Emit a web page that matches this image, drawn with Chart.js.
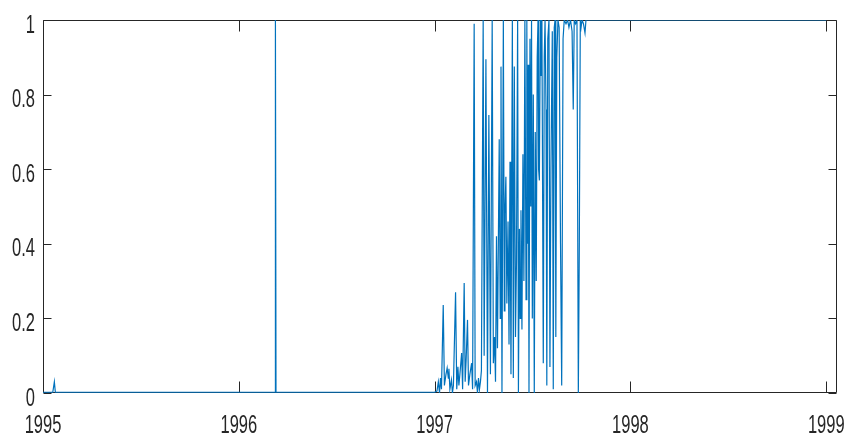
<!DOCTYPE html>
<html>
<head>
<meta charset="utf-8">
<script src="https://cdn.jsdelivr.net/npm/chart.js@4"></script>
<style>
html,body{margin:0;padding:0;background:#fff;}
#wrap{position:relative;width:847px;height:434px;}
</style>
</head>
<body>
<div id="wrap"><canvas id="c" width="847" height="434"></canvas></div>
<script>
// ---- data ----
const xTicks = [1995, 1996, 1997, 1998, 1999];
const xTickLabels = ['1995', '1996', '1997', '1998', '1999'];
const yTicks = [0, 0.2, 0.4, 0.6, 0.8, 1];
const yTickLabels = ['0', '0.2', '0.4', '0.6', '0.8', '1'];
const xMin = 1995, xMax = 1999.055;

const years = [
  1995.000, 1995.050, 1995.058, 1995.063, 1996.185, 1996.187, 1996.190,
  1997.000, 1997.012, 1997.019, 1997.025, 1997.030, 1997.035, 1997.044, 1997.050,
  1997.058, 1997.064, 1997.070, 1997.073, 1997.078, 1997.086, 1997.091, 1997.096,
  1997.107, 1997.113, 1997.119, 1997.124, 1997.129, 1997.138, 1997.143, 1997.151,
  1997.156, 1997.161, 1997.168, 1997.173, 1997.180, 1997.189, 1997.194, 1997.202,
  1997.207, 1997.214, 1997.219, 1997.224, 1997.229, 1997.234, 1997.239, 1997.248,
  1997.253, 1997.262, 1997.270, 1997.277, 1997.285, 1997.294, 1997.300, 1997.306,
  1997.311, 1997.316, 1997.321, 1997.330, 1997.335, 1997.339, 1997.344, 1997.351,
  1997.356, 1997.359, 1997.364, 1997.369, 1997.375, 1997.380, 1997.385, 1997.390,
  1997.397, 1997.402, 1997.407, 1997.413, 1997.418, 1997.424, 1997.428, 1997.433,
  1997.437, 1997.441, 1997.446, 1997.451, 1997.456, 1997.461, 1997.467, 1997.471,
  1997.474, 1997.478, 1997.482, 1997.487, 1997.491, 1997.495, 1997.499, 1997.504,
  1997.509, 1997.514, 1997.519, 1997.524, 1997.528, 1997.531, 1997.535, 1997.540,
  1997.543, 1997.548, 1997.555, 1997.560, 1997.564, 1997.569, 1997.573, 1997.578,
  1997.584, 1997.589, 1997.594, 1997.601, 1997.606, 1997.611, 1997.615, 1997.619,
  1997.624, 1997.630, 1997.636, 1997.643, 1997.649, 1997.656, 1997.662, 1997.671,
  1997.679, 1997.686, 1997.694, 1997.702, 1997.708, 1997.713, 1997.720, 1997.727,
  1997.734, 1997.739, 1997.744, 1997.748, 1997.753, 1997.760, 1997.768, 1997.773,
  1999.000
];
const values = [
  0.002, 0.002, 0.030, 0.002, 0.002, 1.000, 0.002,
  0.002, 0.005, 0.030, 0.000, 0.040, 0.010, 0.236, 0.020,
  0.050, 0.067, 0.040, 0.065, 0.010, 0.035, 0.000, 0.020,
  0.270, 0.010, 0.070, 0.020, 0.050, 0.107, 0.010, 0.295,
  0.030, 0.090, 0.196, 0.020, 0.050, 0.080, 0.010, 0.990,
  0.020, 0.030, 0.000, 0.040, 0.010, 0.030, 0.060, 1.000,
  0.100, 0.895, 0.000, 0.745, 0.050, 1.000, 0.080, 0.150,
  0.030, 0.420, 0.120, 0.680, 0.200, 0.875, 0.000, 1.000,
  0.220, 0.480, 0.580, 0.240, 0.460, 0.130, 0.620, 0.050,
  1.000, 0.040, 0.875, 0.150, 0.350, 1.000, 0.000, 0.440,
  0.200, 0.490, 0.170, 0.640, 0.300, 1.000, 0.250, 1.000,
  0.400, 0.880, 0.000, 0.950, 0.500, 1.000, 0.200, 0.800,
  0.000, 0.700, 0.300, 0.900, 1.000, 0.600, 0.570, 1.000,
  0.850, 1.000, 0.080, 0.900, 1.000, 0.760, 0.020, 0.950,
  1.000, 0.070, 0.600, 0.970, 0.010, 0.980, 1.000, 0.150,
  0.900, 1.000, 0.980, 0.400, 0.020, 0.950, 1.000, 0.990,
  1.000, 0.980, 1.000, 0.970, 0.760, 1.000, 0.990, 1.000,
  0.000, 0.400, 1.000, 0.980, 1.000, 0.990, 0.965, 1.000,
  1.000
];

// ---- chart ----
const axisColor = '#262626';
const fontFamily = "'Liberation Sans', Arial, sans-serif";
const points = years.map((x, i) => ({x: x, y: values[i]}));

const boxTicks = {
  id: 'boxTicks',
  beforeDatasetsDraw(chart) {
    const ctx = chart.ctx, a = chart.chartArea;
    const xs = chart.scales.x, ys = chart.scales.y;
    ctx.save();
    ctx.strokeStyle = axisColor;
    ctx.lineWidth = 1;
    ctx.beginPath();
    const L = Math.round(a.left) + 0.5, R = Math.round(a.right) - 0.5;
    const T = Math.round(a.top) + 0.5, B = Math.round(a.bottom) - 0.5;
    ctx.rect(L, T, R - L, B - T);
    xTicks.forEach(v => {
      const px = Math.round(xs.getPixelForValue(v)) + 0.5;
      ctx.moveTo(px, B); ctx.lineTo(px, B - 11);
      ctx.moveTo(px, T); ctx.lineTo(px, T + 11);
    });
    yTicks.forEach(v => {
      const py = Math.round(ys.getPixelForValue(v)) + 0.5;
      ctx.moveTo(L, py); ctx.lineTo(L + 8, py);
      ctx.moveTo(R, py); ctx.lineTo(R - 8, py);
    });
    ctx.stroke();
    ctx.restore();
  },
  afterDraw(chart) {
    // condensed tick labels, placed through the library's scales
    const ctx = chart.ctx, a = chart.chartArea;
    const xs = chart.scales.x, ys = chart.scales.y;
    const squeeze = 0.66;
    ctx.save();
    ctx.fillStyle = axisColor;
    ctx.font = '25px ' + fontFamily;
    ctx.textBaseline = 'alphabetic';
    ctx.textAlign = 'right';
    yTicks.forEach((v, i) => {
      const py = ys.getPixelForValue(v);
      ctx.save();
      ctx.translate(a.left - 8, py + 12.5);
      ctx.scale(squeeze, 1);
      ctx.fillText(yTickLabels[i], 0, 0);
      ctx.restore();
    });
    ctx.textAlign = 'center';
    xTicks.forEach((v, i) => {
      const px = xs.getPixelForValue(v);
      ctx.save();
      ctx.translate(px, a.bottom + 40);
      ctx.scale(squeeze, 1);
      ctx.fillText(xTickLabels[i], 0, 0);
      ctx.restore();
    });
    ctx.restore();
  }
};

new Chart(document.getElementById('c'), {
  type: 'line',
  data: {
    datasets: [{
      data: points,
      borderColor: '#0072BD',
      borderWidth: 1.2,
      pointRadius: 0,
      tension: 0,
      fill: false
    }]
  },
  options: {
    responsive: false,
    animation: false,
    events: [],
    layout: {padding: {top: 20, right: 10, left: 0, bottom: 0}},
    plugins: {legend: {display: false}, tooltip: {enabled: false}},
    scales: {
      x: {
        type: 'linear',
        min: xMin, max: xMax,
        afterBuildTicks: s => { s.ticks = xTicks.map(v => ({value: v})); },
        afterFit: s => { s.height = 41; s.paddingLeft = 0; s.paddingRight = 0; },
        grid: {display: false, drawTicks: false},
        border: {display: false},
        ticks: {display: false}
      },
      y: {
        min: 0, max: 1,
        afterBuildTicks: s => { s.ticks = yTicks.map(v => ({value: v})); },
        afterFit: s => { s.width = 43; s.paddingTop = 0; s.paddingBottom = 0; },
        grid: {display: false, drawTicks: false},
        border: {display: false},
        ticks: {display: false}
      }
    }
  },
  plugins: [boxTicks]
});
</script>
</body>
</html>
